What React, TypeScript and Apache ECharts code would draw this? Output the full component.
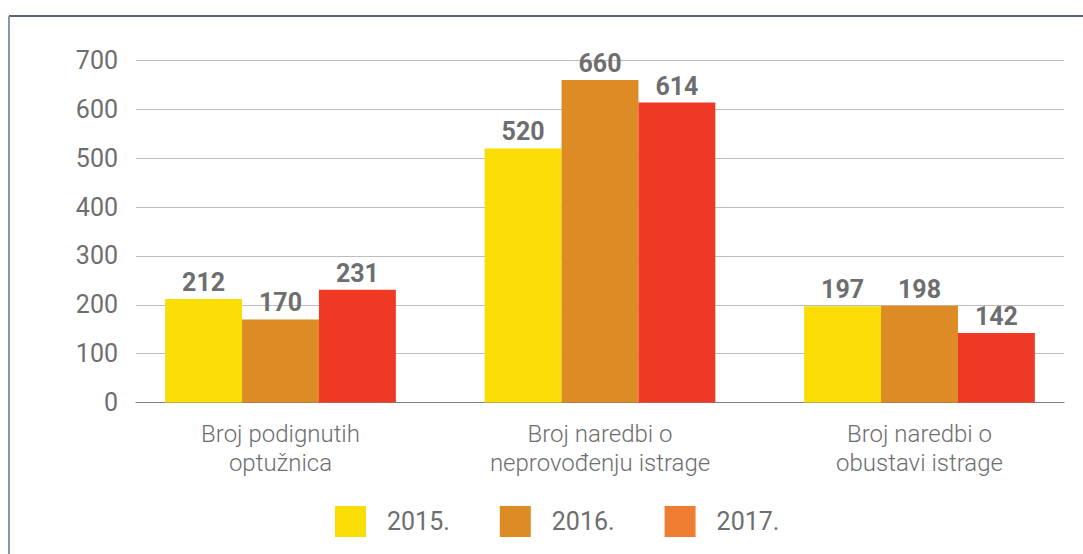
import React, { useEffect, useRef } from "react";
import * as echarts from "echarts";

const categories = [
  "Broj podignutih\noptužnica",
  "Broj naredbi o\nneprovođenju istrage",
  "Broj naredbi o\nobustavi istrage",
];
const seriesNames = ["2015.", "2016.", "2017."];
const values2015 = [212, 520, 197];
const values2016 = [170, 660, 198];
const values2017 = [231, 614, 142];
const barColors = ["#F9DD05", "#DD8B24", "#EE3A24"];
const legendColors = ["#F9DD05", "#DD8B24", "#EE7D31"];

const FONT = "Roboto, 'Noto Sans', sans-serif";
const TXT = "#6d6e70";

export default function App() {
  const ref = useRef<HTMLDivElement>(null);
  useEffect(() => {
    if (!ref.current) return;
    const chart = echarts.init(ref.current, undefined, { renderer: "svg" });
    const data = [values2015, values2016, values2017];
    chart.setOption({
      animation: false,
      backgroundColor: "#ffffff",
      textStyle: { fontFamily: FONT },
      grid: [
        { left: 136, right: 19, top: 60.5, height: 342, containLabel: false },
        { left: 120.75, width: 958.5, top: 60.5, height: 342, containLabel: false },
      ],
      xAxis: [
        {
          gridIndex: 0,
          type: "category",
          data: [""],
          axisLabel: { show: false },
          axisTick: { show: false },
          axisLine: { show: true, lineStyle: { color: "#7f7f7f", width: 1.2 } },
          splitLine: { show: false },
        },
        {
          gridIndex: 1,
          type: "category",
          data: categories,
          axisLine: { show: false },
          axisTick: { show: false },
          axisLabel: {
            fontSize: 24,
            lineHeight: 29,
            color: TXT,
            margin: 17,
            fontFamily: FONT,
            fontWeight: 300,
          },
        },
      ],
      yAxis: [
        {
          gridIndex: 0,
          type: "value",
          min: 0,
          max: 700,
          interval: 100,
          axisLine: { show: false },
          axisTick: { show: false },
          axisLabel: { fontSize: 25, color: TXT, margin: 18, fontFamily: FONT },
          splitLine: { show: true, lineStyle: { color: "#bdbdbd", width: 1.2 } },
        },
        {
          gridIndex: 1,
          type: "value",
          min: 0,
          max: 700,
          interval: 100,
          show: false,
          splitLine: { show: false },
        },
      ],
      legend: {
        left: 335,
        top: 506,
        padding: 0,
        itemWidth: 31,
        itemHeight: 31,
        itemGap: 50,
        icon: "rect",
        textStyle: {
          fontSize: 25,
          color: TXT,
          fontFamily: FONT,
          padding: [0, 0, 0, 16],
        },
        data: seriesNames.map((n, i) => ({
          name: n,
          itemStyle: { color: legendColors[i] },
        })),
      },
      series: seriesNames.map((n, i) => ({
        name: n,
        type: "bar",
        xAxisIndex: 1,
        yAxisIndex: 1,
        data: data[i],
        barWidth: 76.9,
        barGap: "0%",
        itemStyle: { color: barColors[i] },
        label: {
          show: true,
          position: "top",
          distance: 4,
          fontSize: 25,
          fontWeight: "bold",
          color: TXT,
          fontFamily: FONT,
        },
      })),
      graphic: [
        {
          type: "line",
          shape: { x1: 9, y1: 16, x2: 1083, y2: 16 },
          style: { stroke: "#1e3550", lineWidth: 1.5 },
        },
        {
          type: "line",
          shape: { x1: 9, y1: 16, x2: 9, y2: 554 },
          style: { stroke: "#8b96a5", lineWidth: 2 },
        },
      ],
    });
    return () => chart.dispose();
  }, []);
  return (
    <div
      ref={ref}
      style={{ position: "fixed", left: 0, top: 0, width: 1083, height: 554 }}
    />
  );
}
